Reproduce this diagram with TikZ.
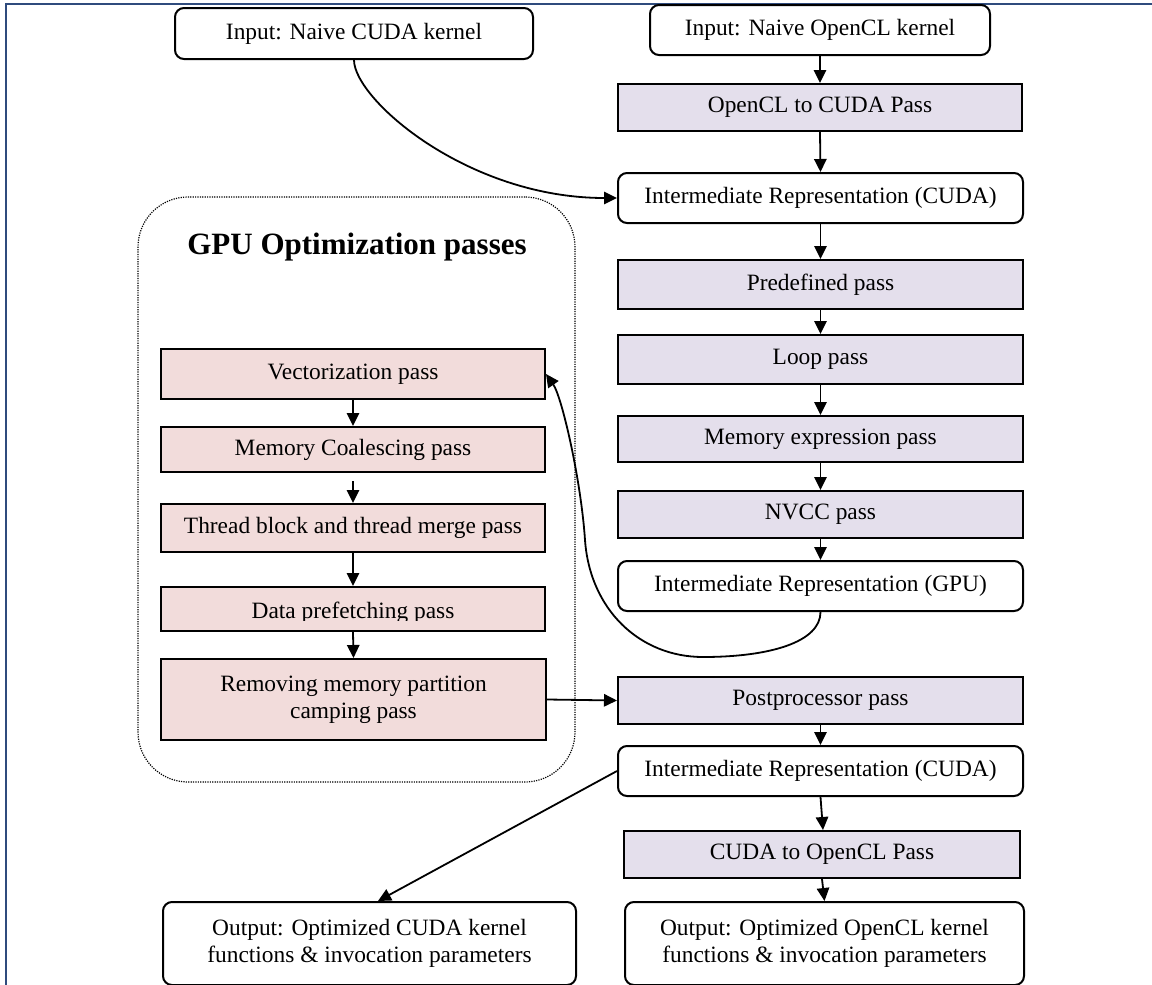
\documentclass[tikz,border=0pt]{standalone}
\usepackage{fontspec}
\setmainfont{Liberation Serif}
\usetikzlibrary{arrows.meta}
\definecolor{passfill}{RGB}{228,223,236}
\definecolor{optfill}{RGB}{242,220,219}
\definecolor{framecol}{RGB}{47,75,125}
\begin{document}
\begin{tikzpicture}[x=0.5pt,y=-0.5pt,
  every node/.style={font=\fontsize{11.7pt}{13.4pt}\selectfont, align=center, inner sep=1pt},
  iobox/.style={draw, line width=1pt, rounded corners=4.5pt, fill=white},
  passbox/.style={draw, line width=1pt, fill=passfill},
  optbox/.style={draw, line width=1pt, fill=optfill},
  grpbox/.style={draw, line width=0.6pt, dash pattern=on 0.6pt off 0.6pt, rounded corners=25pt},
  arr/.style={line width=0.9pt, -{Triangle[length=6.5pt,width=6.2pt]}},
]
\useasboundingbox (0,0) rectangle (1152,985);
\draw[framecol, line width=1pt] (6,985) -- (6,4) -- (1152,4);

% group
\node[grpbox, minimum width=218.5pt, minimum height=292.5pt] (gpugrp) at (356.5,489.5) {};
\node[font=\fontsize{15.5pt}{18pt}\bfseries\selectfont] (gputitle) at (357,247) {GPU Optimization passes};

% right column
\node[iobox, minimum width=179pt, minimum height=25.5pt] (incuda) at (354,33.5) {Input: Naive CUDA kernel};
\node[iobox, minimum width=170pt, minimum height=25pt] (inocl) at (820,30) {Input: Naive OpenCL kernel};
\node[passbox, minimum width=202pt, minimum height=23.5pt] (o2c) at (820,107.5) {OpenCL to CUDA Pass};
\node[iobox, minimum width=202.5pt, minimum height=25pt] (ir1) at (820.5,198) {Intermediate Representation (CUDA)};
\node[passbox, minimum width=202.5pt, minimum height=24.5pt] (pre) at (820.5,284.5) {Predefined pass};
\node[passbox, minimum width=202.5pt, minimum height=24.5pt] (loop) at (820.5,359.5) {Loop pass};
\node[passbox, minimum width=202.5pt, minimum height=23pt] (memx) at (820.5,439) {Memory expression pass};
\node[passbox, minimum width=202.5pt, minimum height=23.5pt] (nvcc) at (820.5,514.5) {NVCC pass};
\node[iobox, minimum width=202.5pt, minimum height=25pt] (irgpu) at (820.5,586) {Intermediate Representation (GPU)};
\node[passbox, minimum width=202.5pt, minimum height=23.5pt] (post) at (820.5,700.5) {Postprocessor pass};
\node[iobox, minimum width=202.5pt, minimum height=25pt] (ir2) at (820.5,771) {Intermediate Representation (CUDA)};
\node[passbox, minimum width=198pt, minimum height=23.5pt] (c2o) at (822,854.5) {CUDA to OpenCL Pass};
\node[iobox, minimum width=199.5pt, minimum height=41.5pt] (outocl) at (824.5,943.5) {Output: Optimized OpenCL kernel\\functions \& invocation parameters};
\node[iobox, minimum width=206.5pt, minimum height=41.5pt] (outcuda) at (369.5,943.5) {Output: Optimized CUDA kernel\\functions \& invocation parameters};

% left column
\node[optbox, minimum width=192pt, minimum height=25pt] (vec) at (353,374) {Vectorization pass};
\node[optbox, minimum width=192pt, minimum height=22.5pt] (mco) at (353,449.5) {Memory Coalescing pass};
\node[optbox, minimum width=192pt, minimum height=24pt] (thr) at (353,528) {Thread block and thread merge pass};
\node[optbox, minimum width=192pt, minimum height=22pt] (dpf) at (353,609) {};
\begin{scope}
  \clip (161,587) rectangle (545,620);
  \node[anchor=base] (dpftxt) at (353,618) {Data prefetching pass};
\end{scope}
\node[optbox, minimum width=192.5pt, minimum height=40.5pt] (rem) at (353.5,699.5) {Removing memory partition\\camping pass};

% connectors
\draw[arr] (inocl.south) -- (o2c.north);
\draw[arr] (o2c.south) -- (ir1.north);
\draw[arr] (ir1.south) -- (pre.north);
\draw[arr] (pre.south) -- (loop.north);
\draw[arr] (loop.south) -- (memx.north);
\draw[arr] (memx.south) -- (nvcc.north);
\draw[arr] (nvcc.south) -- (irgpu.north);
\draw[arr] (post.south) -- (ir2.north);
\draw[arr] (ir2.south) -- ([xshift=0.5pt]c2o.north);
\draw[arr] (c2o.south) -- (outocl.north);

\draw[arr] (vec.south) -- (mco.north);
\draw[arr, shorten <=4pt] (mco.south) -- (thr.north);
\draw[arr] (thr.south) -- (dpf.north);
\draw[arr] (dpf.south) -- (rem.north);
\draw[arr] (rem.east) -- (post.west);

\draw[arr] (incuda.south) .. controls +(0,39) and +(-150,0) .. (ir1.west);
\draw[arr] (irgpu.south) .. controls +(0,30) and (770,657) .. (703,657)
  .. controls (640,657) and (590,610) .. (585,540)
  .. controls (581,480) and (562,397) .. (vec.east);
\draw[arr] (ir2.west) -- ([xshift=4.25pt]outcuda.north);
\end{tikzpicture}
\end{document}
